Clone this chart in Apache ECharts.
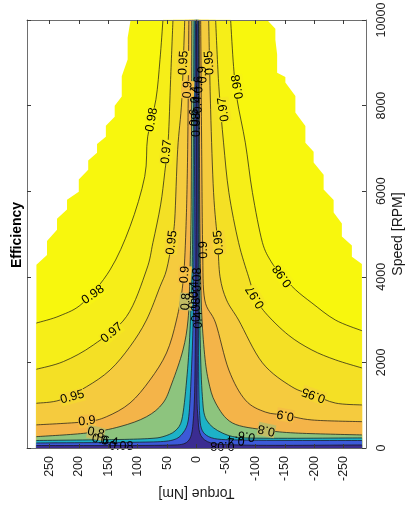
<!DOCTYPE html>
<html><head><meta charset="utf-8">
<script src="https://cdn.jsdelivr.net/npm/echarts@6/dist/echarts.min.js"></script>
<style>html,body{margin:0;padding:0;background:#fff}#c{width:406px;height:517px}</style>
</head><body><div id="c"></div>
<script>
// ---------- data (torque [Nm], speed [RPM]) ----------
const torqueTicks = [-250, -200, -150, -100, -50, 0, 50, 100, 150, 200, 250];
const speedTicks = [0, 2000, 4000, 6000, 8000, 10000];
const levels = [0.98, 0.97, 0.95, 0.9, 0.8, 0.6, 0.4, 0.08];

// operating-region border (bottom -> top)
const domainLeft = [[272,0],[272,4000],[254,4510],[237,5100],[220,5570],[200,5990],[184,6500],[169,6900],[154,7270],[139,7740],[127,8210],[117,9080],[112,10000]];
const domainRight = [[-281,0],[-281,4090],[-264,4470],[-247,4940],[-233,5500],[-216,6040],[-199,6670],[-185,7130],[-168,7840],[-151,8540],[-137,8770],[-134,9540],[-120,10000]];

// contour lines, positive-torque side (edge -> top)
const c098L = [[272,2920],[232,3090],[193,3390],[147,4160],[113,5170],[88,6340],[83,7270],[69,8140],[62,9080],[57,10000]];
const c097L = [[272,1840],[226,2020],[175,2410],[119,3070],[85,4160],[74,4800],[61,5680],[54,6430],[48,7200],[44,8610],[40,10000]];
const c095L = [[272,1045],[232,1120],[187,1430],[147,1820],[113,2370],[85,2990],[62,3770],[51,4160],[42,4800],[37,5330],[32,6970],[25,8140],[20,10000]];
const c090L = [[272,540],[187,615],[153,730],[113,1050],[79,1590],[51,2220],[34,2990],[23,3860],[18,5100],[15,6970],[13,10000]];
const c080L = [[272,265],[187,350],[130,500],[85,730],[57,1050],[41.6,1520],[23,2290],[14.4,2990],[11.5,3930],[9,5800],[8,10000]];
const c060L = [[272,175],[130,199],[79,222],[57,264],[36.5,397],[25,654],[16.7,1590],[11,2760],[6.8,4630],[4.2,10000]];
const c040L = [[272,117],[79,140],[40,187],[23,350],[13.9,654],[9.3,1590],[5.1,3460],[2,10000]];
const c008L = [[272,58],[36.5,70],[12.7,187],[5.4,654],[2.5,1820],[0.85,5790],[0.7,10000]];

// contour lines, negative-torque side (edge -> top)
const c098R = [[-281,2740],[-236,2990],[-196,3390],[-168,3700],[-144,4050],[-127,4350],[-112,4800],[-95,5970],[-83,7130],[-69,8140],[-63,8910],[-58,10000]];
const c097R = [[-281,1870],[-236,2060],[-196,2290],[-156,2640],[-117,3160],[-100,3530],[-88.5,4000],[-71.5,4800],[-55,5970],[-46,7130],[-38,8440],[-32.5,10000]];
const c095R = [[-281,1005],[-236,1050],[-199,1240],[-162,1430],[-112,1990],[-71.5,2990],[-51,3460],[-40,4000],[-36,4800],[-29,5970],[-24,7910],[-20.7,10000]];
const c090R = [[-281,615],[-196,655],[-151,770],[-117,840],[-83,1120],[-55,1820],[-32.5,2920],[-14,3460],[-10.5,4630],[-8.8,6970],[-7.1,10000]];
const c080R = [[-281,305],[-168,350],[-117,420],[-61,585],[-32.5,1050],[-20,1590],[-13,2300],[-8,3460],[-5.4,5800],[-4.6,10000]];
const c060R = [[-281,235],[-83,235],[-44,350],[-17,655],[-10,1200],[-6.3,2530],[-4.6,4630],[-3.7,10000]];
const c040R = [[-281,175],[-73,187],[-20.7,265],[-5.9,655],[-3.4,3460],[-2.9,10000]];
const c008R = [[-281,70],[-73,70],[-13.9,187],[-2,800],[-1.2,2000],[-0.85,10000]];

// contour labels: text, torque, speed, angle
const contourLabels = [
  ["0.98",176,3580,35],["0.97",144,2690,40],["0.95",211,1190,15],["0.9",186,630,6],
  ["0.8",171,350,-12],["0.6",163,190,-12],["0.4",148,150,-8],["0.08",128,35,0],
  ["0.98",76,7670,80],["0.97",51,6920,84],["0.95",42,4800,83],["0.95",22,9000,87],
  ["0.9",15,8370,88],["0.9",20,4050,85],["0.8",18,3420,86],
  ["0.98",-146,4020,126],["0.97",-100,3530,122],["0.95",-199,1240,160],["0.9",-151,770,170],
  ["0.8",-119,420,168],["0.6",-85,281,170],["0.4",-67,187,175],["0.08",-44,70,180],
  ["0.98",-70,8440,100],["0.97",-46,7910,98],["0.95",-22,9000,93],["0.95",-38,4800,95],
  ["0.9",-10.5,8720,92],["0.9",-12,4630,92],
  ["0.6",3.4,7720,90],["0.4",1,8260,90],["0.08",-0.5,7550,90],["0.4",-2.5,8020,92],["0.6",-4,8490,92],
  ["0.6",5,3460,88],["0.4",2.5,3700,90],["0.08",0,3230,90],["0.08",-1,3930,90],["0.4",-3,2990,92]
];

// ---------- styling ----------
const leftCurves = [c098L, c097L, c095L, c090L, c080L, c060L, c040L, c008L];
const rightCurves = [c098R, c097R, c095R, c090R, c080R, c060R, c040R, c008R];
const bandColors = ['#f8f70d', '#f6ee18', '#f4e025', '#f5cb3e', '#f4b449', '#8dc47e', '#1db2c7', '#3c5ad8', '#3b2c91'];
const FONT = '"Liberation Sans", Arial, Helvetica, sans-serif';

function stair(list) {
  const out = [];
  for (let i = 0; i < list.length - 1; i++) {
    const a = list[i], b = list[i + 1];
    out.push(a);
    if (a[0] !== b[0] && a[1] !== b[1]) out.push([a[0], a[1] + 0.55 * (b[1] - a[1])]);
  }
  out.push(list[list.length - 1]);
  return out;
}
function clampVec(vx, vy, maxLen) {
  const l = Math.hypot(vx, vy);
  if (l > maxLen && l > 0) { const f = maxLen / l; return [vx * f, vy * f]; }
  return [vx, vy];
}
function bez(pts) {
  let d = '';
  const n = pts.length;
  for (let i = 0; i < n - 1; i++) {
    const p0 = pts[i === 0 ? 0 : i - 1], p1 = pts[i], p2 = pts[i + 1], p3 = pts[Math.min(i + 2, n - 1)];
    const seg = Math.hypot(p2[0] - p1[0], p2[1] - p1[1]);
    const v1 = clampVec((p2[0] - p0[0]) / 6, (p2[1] - p0[1]) / 6, 0.45 * seg);
    const v2 = clampVec((p3[0] - p1[0]) / 6, (p3[1] - p1[1]) / 6, 0.45 * seg);
    d += ' C ' + (p1[0] + v1[0]) + ' ' + (p1[1] + v1[1]) + ' ' + (p2[0] - v2[0]) + ' ' + (p2[1] - v2[1]) + ' ' + p2[0] + ' ' + p2[1];
  }
  return d;
}
function hexToRgb(h) { return [parseInt(h.substr(1,2),16), parseInt(h.substr(3,2),16), parseInt(h.substr(5,2),16)]; }
function blend(a, b) { const x = hexToRgb(a), y = hexToRgb(b); return 'rgb(' + Math.round((x[0]+y[0])/2) + ',' + Math.round((x[1]+y[1])/2) + ',' + Math.round((x[2]+y[2])/2) + ')'; }

function renderItem(params, api) {
  const px = p => api.coord(p);
  const kids = [];
  const dom = stair(domainLeft).concat(stair(domainRight).reverse()).map(px);
  kids.push({ type: 'polygon', shape: { points: dom }, style: { fill: bandColors[0] }, silent: true });
  for (let k = 0; k < levels.length; k++) {
    const L = leftCurves[k].map(px);
    const Rr = rightCurves[k].map(px).reverse();
    const bl = px([leftCurves[k][0][0], 0]), br = px([rightCurves[k][0][0], 0]);
    const d = 'M ' + L[0][0] + ' ' + L[0][1] + bez(L) + ' L ' + Rr[0][0] + ' ' + Rr[0][1] + bez(Rr) +
      ' L ' + br[0] + ' ' + br[1] + ' L ' + bl[0] + ' ' + bl[1] + ' Z';
    kids.push({ type: 'path', shape: { pathData: d }, style: { fill: bandColors[k + 1], stroke: bandColors[k + 1], lineWidth: 0.3 }, silent: true });
  }
  for (let k = 0; k < levels.length; k++) {
    [leftCurves[k], rightCurves[k]].forEach(c => {
      const P = c.map(px);
      kids.push({ type: 'path', shape: { pathData: 'M ' + P[0][0] + ' ' + P[0][1] + bez(P) }, style: { fill: 'none', stroke: '#151515', lineWidth: 0.7 }, silent: true });
    });
  }
  contourLabels.forEach(l => {
    const p = px([l[1], l[2]]);
    const lv = parseFloat(l[0]);
    const idx = levels.indexOf(lv);
    const bg = (Math.abs(l[1]) > 12 && lv >= 0.8) ? blend(bandColors[idx], bandColors[idx + 1]) : null;
    kids.push({ type: 'text', x: p[0], y: p[1], rotation: l[3] * Math.PI / 180, silent: true,
      style: { text: l[0], font: '12.5px ' + FONT, fill: '#000', align: 'center', verticalAlign: 'middle',
        backgroundColor: bg, padding: [0, 0] } });
  });
  return { type: 'group', children: kids };
}

const axisLineStyle = { color: '#6e6e6e', width: 1 };
const tickStyle = { color: '#3a3a3a', width: 1 };
const plain = v => String(v);
const chart = echarts.init(document.getElementById('c'), null, { renderer: 'canvas' });
chart.setOption({
  animation: false,
  backgroundColor: '#ffffff',
  grid: { left: 27, top: 20, right: 40, bottom: 69, containLabel: false, outerBoundsMode: 'none' },
  xAxis: [{
    type: 'value', min: -288, max: 288, inverse: true, position: 'bottom', z: 5,
    axisLine: { show: true, onZero: false, lineStyle: axisLineStyle },
    axisTick: { show: true, inside: true, length: 4, customValues: torqueTicks, lineStyle: tickStyle },
    axisLabel: { show: true, rotate: 90, margin: 8, customValues: torqueTicks, formatter: plain, hideOverlap: false, color: '#1a1a1a', fontSize: 12.5, fontFamily: FONT },
    splitLine: { show: false },
    name: 'Torque [Nm]', nameLocation: 'middle', nameGap: 38, nameRotate: 180, nameMoveOverlap: false,
    nameTextStyle: { fontSize: 14, color: '#1a1a1a', fontFamily: FONT }
  }, {
    type: 'value', min: -288, max: 288, inverse: true, position: 'top', z: 5,
    axisLine: { show: true, onZero: false, lineStyle: axisLineStyle },
    axisTick: { show: true, inside: true, length: 4, customValues: torqueTicks, lineStyle: tickStyle },
    axisLabel: { show: false }, splitLine: { show: false }
  }],
  yAxis: [{
    type: 'value', min: 0, max: 10000, interval: 2000, position: 'right', z: 5,
    axisLine: { show: true, onZero: false, lineStyle: axisLineStyle },
    axisTick: { show: true, inside: true, length: 4, customValues: speedTicks, lineStyle: tickStyle },
    axisLabel: { show: true, rotate: 90, margin: 9, customValues: speedTicks, formatter: plain, hideOverlap: false, color: '#1a1a1a', fontSize: 12.5, fontFamily: FONT },
    splitLine: { show: false },
    name: 'Speed [RPM]', nameLocation: 'middle', nameGap: 25, nameRotate: 90, nameMoveOverlap: false,
    nameTextStyle: { fontSize: 14, color: '#1a1a1a', fontFamily: FONT }
  }, {
    type: 'value', min: 0, max: 10000, interval: 2000, position: 'left', z: 5,
    axisLine: { show: true, onZero: false, lineStyle: axisLineStyle },
    axisTick: { show: true, inside: true, length: 4, lineStyle: tickStyle },
    axisLabel: { show: false }, splitLine: { show: false }
  }],
  graphic: [{
    type: 'text', x: 17, y: 235, rotation: Math.PI / 2, silent: true,
    style: { text: 'Efficiency', font: 'bold 14px ' + FONT, fill: '#000', align: 'center', verticalAlign: 'middle' }
  }],
  series: [{
    type: 'custom', coordinateSystem: 'cartesian2d', xAxisIndex: 0, yAxisIndex: 0,
    clip: false, silent: true, renderItem: renderItem, data: [[0, 5000]]
  }]
});
</script>
</body></html>
